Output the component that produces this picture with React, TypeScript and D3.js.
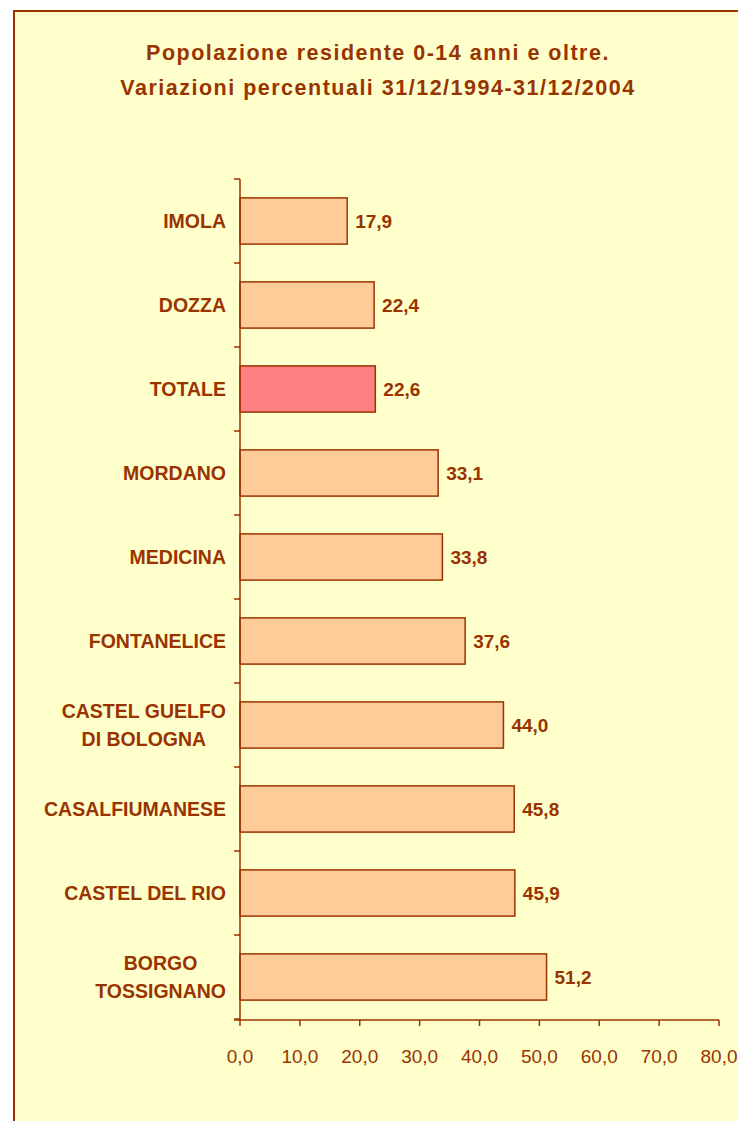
import React, { useEffect, useRef } from "react";
import * as d3 from "d3";

const categories: string[][] = [
  ["IMOLA"],
  ["DOZZA"],
  ["TOTALE"],
  ["MORDANO"],
  ["MEDICINA"],
  ["FONTANELICE"],
  ["CASTEL GUELFO", "DI BOLOGNA"],
  ["CASALFIUMANESE"],
  ["CASTEL DEL RIO"],
  ["BORGO", "TOSSIGNANO"],
];
const values: number[] = [17.9, 22.4, 22.6, 33.1, 33.8, 37.6, 44.0, 45.8, 45.9, 51.2];
const xTicks: number[] = [0, 10, 20, 30, 40, 50, 60, 70, 80];
const titleLines: string[] = [
  "Popolazione residente 0-14 anni e oltre.",
  "Variazioni percentuali 31/12/1994-31/12/2004",
];

const DARK = "#993300";
const BG = "#FFFFCC";
const BAR = "#FFCC99";
const HIGHLIGHT = "#FF8080";
const FONT = "'Liberation Sans', Arial, sans-serif";

export default function App() {
  const ref = useRef<SVGSVGElement>(null);
  useEffect(() => {
    const svg = d3.select(ref.current);
    svg.selectAll("*").remove();
    const W = 738, H = 1121;
    const left = 240, right = 719, top = 179, bottom = 1019;

    svg.append("rect").attr("x", 0).attr("y", 0).attr("width", W).attr("height", H).attr("fill", "#fff");
    svg.append("rect").attr("x", 14).attr("y", 11).attr("width", W + 20).attr("height", H + 20)
      .attr("fill", BG).attr("stroke", DARK).attr("stroke-width", 2);

    const fmt = (v: number) => d3.format(".1f")(v).replace(".", ",");

    svg.append("g").selectAll("text").data(titleLines).join("text")
      .attr("x", 378).attr("y", (_, i) => 60 + i * 34.5)
      .attr("text-anchor", "middle").attr("font-family", FONT).attr("font-weight", "bold")
      .attr("font-size", 21.5).attr("letter-spacing", 1.5).attr("fill", DARK).text(d => d);

    const x = d3.scaleLinear().domain([0, 80]).range([left, right]);
    const y = d3.scaleBand<number>().domain(d3.range(categories.length)).range([top, bottom]).paddingInner(0.45).paddingOuter(0.225);
    const yb = d3.scaleBand<number>().domain(d3.range(categories.length)).range([top, bottom]);

    // bars
    svg.append("g").selectAll("rect").data(values).join("rect")
      .attr("x", x(0)).attr("y", (_, i) => y(i)!).attr("width", d => x(d) - x(0)).attr("height", y.bandwidth())
      .attr("fill", (_, i) => categories[i][0] === "TOTALE" ? HIGHLIGHT : BAR)
      .attr("stroke", DARK).attr("stroke-width", 1.5);

    // value labels
    svg.append("g").selectAll("text").data(values).join("text")
      .attr("x", d => x(d) + 8).attr("y", (_, i) => y(i)! + y.bandwidth() / 2 + 6.5)
      .attr("font-family", FONT).attr("font-weight", "bold").attr("font-size", 19).attr("fill", DARK)
      .text(d => fmt(d));

    // y axis
    const ya = svg.append("g");
    ya.append("line").attr("x1", left).attr("x2", left).attr("y1", top).attr("y2", bottom + 1).attr("stroke", DARK).attr("stroke-width", 1.5);
    ya.selectAll("line.t").data(d3.range(categories.length + 1)).join("line").attr("class", "t")
      .attr("x1", left - 6).attr("x2", left).attr("y1", i => top + i * yb.bandwidth()).attr("y2", i => top + i * yb.bandwidth())
      .attr("stroke", DARK).attr("stroke-width", 1.5);
    const lab = ya.selectAll("text").data(categories).join("text")
      .attr("font-family", FONT).attr("font-weight", "bold").attr("font-size", 19.5).attr("fill", DARK);
    lab.each(function (d, i) {
      const t = d3.select(this);
      const cy = yb(i)! + yb.bandwidth() / 2;
      const n = d.length;
      d.forEach((s, k) => {
        t.append("tspan").attr("x", 226).attr("text-anchor", "end").attr("y", cy + 7 + (k - (n - 1) / 2) * 28).text(s);
      });
    });
    lab.each(function (d) {
      if (d.length < 2) return;
      const spans = d3.select(this).selectAll<SVGTSpanElement, unknown>("tspan").nodes();
      const widths = spans.map(s => s.getComputedTextLength());
      const maxW = Math.max(...widths);
      spans.forEach((s) => {
        d3.select(s).attr("text-anchor", "middle").attr("x", 226 - maxW / 2);
      });
    });

    // x axis
    const xa = svg.append("g");
    xa.append("line").attr("x1", left - 6).attr("x2", right).attr("y1", bottom + 1).attr("y2", bottom + 1).attr("stroke", DARK).attr("stroke-width", 1.5);
    xa.selectAll("line.t").data(xTicks).join("line").attr("class", "t")
      .attr("x1", d => x(d)).attr("x2", d => x(d)).attr("y1", bottom + 1).attr("y2", bottom + 7)
      .attr("stroke", DARK).attr("stroke-width", 1.5);
    xa.selectAll("text").data(xTicks).join("text")
      .attr("x", d => x(d)).attr("y", bottom + 44).attr("text-anchor", "middle")
      .attr("font-family", FONT).attr("font-size", 19).attr("fill", DARK).text(d => fmt(d));
  }, []);
  return (
    <svg ref={ref} width={738} height={1121} style={{ position: "absolute", left: 0, top: 0, display: "block" }} />
  );
}
